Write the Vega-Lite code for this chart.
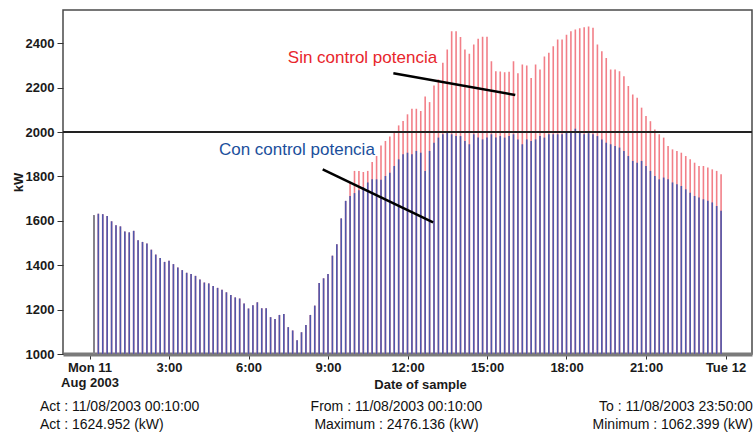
{
"$schema": "https://vega.github.io/schema/vega-lite/v6.json",
"width": 689, "height": 344, "autosize": "none",
"padding": {"left": 63, "top": 10, "right": 3, "bottom": 88},
"background": "#ffffff",
"config": {
  "view": {"stroke": "#4a4a4a", "strokeWidth": 1.5},
  "axis": {"grid": false, "labelFont": "Liberation Sans", "titleFont": "Liberation Sans", "labelColor": "#1a1a1a", "titleColor": "#1a1a1a", "labelFontSize": 13, "labelFontWeight": "bold", "titleFontSize": 13, "titleFontWeight": "bold", "tickColor": "#333333", "labelLineHeight": 15},
  "text": {"font": "Liberation Sans"}
},
"data": {"values": [
{"t":"2003-08-11T00:10","c":1625,"s":1625},{"t":"2003-08-11T00:20","c":1632,"s":1632},{"t":"2003-08-11T00:30","c":1630,"s":1630},{"t":"2003-08-11T00:40","c":1622,"s":1622},{"t":"2003-08-11T00:50","c":1598,"s":1598},{"t":"2003-08-11T01:00","c":1580,"s":1580},{"t":"2003-08-11T01:10","c":1575,"s":1575},{"t":"2003-08-11T01:20","c":1552,"s":1552},{"t":"2003-08-11T01:30","c":1548,"s":1548},{"t":"2003-08-11T01:40","c":1555,"s":1555},{"t":"2003-08-11T01:50","c":1512,"s":1512},{"t":"2003-08-11T02:00","c":1505,"s":1505},{"t":"2003-08-11T02:10","c":1498,"s":1498},{"t":"2003-08-11T02:20","c":1470,"s":1470},{"t":"2003-08-11T02:30","c":1448,"s":1448},{"t":"2003-08-11T02:40","c":1432,"s":1432},{"t":"2003-08-11T02:50","c":1415,"s":1415},{"t":"2003-08-11T03:00","c":1420,"s":1420},{"t":"2003-08-11T03:10","c":1405,"s":1405},{"t":"2003-08-11T03:20","c":1390,"s":1390},{"t":"2003-08-11T03:30","c":1378,"s":1378},{"t":"2003-08-11T03:40","c":1366,"s":1366},{"t":"2003-08-11T03:50","c":1360,"s":1360},{"t":"2003-08-11T04:00","c":1352,"s":1352},{"t":"2003-08-11T04:10","c":1336,"s":1336},{"t":"2003-08-11T04:20","c":1322,"s":1322},{"t":"2003-08-11T04:30","c":1318,"s":1318},{"t":"2003-08-11T04:40","c":1306,"s":1306},{"t":"2003-08-11T04:50","c":1298,"s":1298},{"t":"2003-08-11T05:00","c":1290,"s":1290},{"t":"2003-08-11T05:10","c":1278,"s":1278},{"t":"2003-08-11T05:20","c":1266,"s":1266},{"t":"2003-08-11T05:30","c":1255,"s":1255},{"t":"2003-08-11T05:40","c":1250,"s":1250},{"t":"2003-08-11T05:50","c":1228,"s":1228},{"t":"2003-08-11T06:00","c":1205,"s":1205},{"t":"2003-08-11T06:10","c":1220,"s":1220},{"t":"2003-08-11T06:20","c":1233,"s":1233},{"t":"2003-08-11T06:30","c":1206,"s":1206},{"t":"2003-08-11T06:40","c":1206,"s":1206},{"t":"2003-08-11T06:50","c":1166,"s":1166},{"t":"2003-08-11T07:00","c":1158,"s":1158},{"t":"2003-08-11T07:10","c":1176,"s":1176},{"t":"2003-08-11T07:20","c":1180,"s":1180},{"t":"2003-08-11T07:30","c":1121,"s":1121},{"t":"2003-08-11T07:40","c":1106,"s":1106},{"t":"2003-08-11T07:50","c":1062.399,"s":1062.399},{"t":"2003-08-11T08:00","c":1098,"s":1098},{"t":"2003-08-11T08:10","c":1131,"s":1131},{"t":"2003-08-11T08:20","c":1176,"s":1176},{"t":"2003-08-11T08:30","c":1218,"s":1218},{"t":"2003-08-11T08:40","c":1320,"s":1320},{"t":"2003-08-11T08:50","c":1341,"s":1341},{"t":"2003-08-11T09:00","c":1360,"s":1360},{"t":"2003-08-11T09:10","c":1443,"s":1443},{"t":"2003-08-11T09:20","c":1495,"s":1495},{"t":"2003-08-11T09:30","c":1611,"s":1611},{"t":"2003-08-11T09:40","c":1690,"s":1690},{"t":"2003-08-11T09:50","c":1712,"s":1773},
{"t":"2003-08-11T10:00","c":1725,"s":1825},{"t":"2003-08-11T10:10","c":1738,"s":1825},{"t":"2003-08-11T10:20","c":1752,"s":1820},{"t":"2003-08-11T10:30","c":1773,"s":1825},{"t":"2003-08-11T10:40","c":1787,"s":1865},{"t":"2003-08-11T10:50","c":1787,"s":1892},{"t":"2003-08-11T11:00","c":1785,"s":1940},{"t":"2003-08-11T11:10","c":1802,"s":1960},{"t":"2003-08-11T11:20","c":1817,"s":1980},{"t":"2003-08-11T11:30","c":1847,"s":2005},{"t":"2003-08-11T11:40","c":1877,"s":2030},{"t":"2003-08-11T11:50","c":1900,"s":2050},{"t":"2003-08-11T12:00","c":1907,"s":2080},{"t":"2003-08-11T12:10","c":1900,"s":2105},{"t":"2003-08-11T12:20","c":1915,"s":2105},{"t":"2003-08-11T12:30","c":1907,"s":2095},{"t":"2003-08-11T12:40","c":1825,"s":2160},{"t":"2003-08-11T12:50","c":1915,"s":2135},{"t":"2003-08-11T13:00","c":1952,"s":2210},{"t":"2003-08-11T13:10","c":1975,"s":2237},{"t":"2003-08-11T13:20","c":1990,"s":2312},{"t":"2003-08-11T13:30","c":1997,"s":2372},{"t":"2003-08-11T13:40","c":1990,"s":2454},{"t":"2003-08-11T13:50","c":1982,"s":2454},{"t":"2003-08-11T14:00","c":1982,"s":2428},{"t":"2003-08-11T14:10","c":1960,"s":2372},{"t":"2003-08-11T14:20","c":1945,"s":2353},{"t":"2003-08-11T14:30","c":1990,"s":2394},{"t":"2003-08-11T14:40","c":1975,"s":2420},{"t":"2003-08-11T14:50","c":1967,"s":2430},{"t":"2003-08-11T15:00","c":1975,"s":2430},{"t":"2003-08-11T15:10","c":1990,"s":2319},{"t":"2003-08-11T15:20","c":1975,"s":2274},{"t":"2003-08-11T15:30","c":1982,"s":2273},{"t":"2003-08-11T15:40","c":1975,"s":2270},{"t":"2003-08-11T15:50","c":1982,"s":2272},{"t":"2003-08-11T16:00","c":1990,"s":2319},{"t":"2003-08-11T16:10","c":1967,"s":2265},{"t":"2003-08-11T16:20","c":1945,"s":2304},{"t":"2003-08-11T16:30","c":1967,"s":2300},{"t":"2003-08-11T16:40","c":1960,"s":2244},{"t":"2003-08-11T16:50","c":1967,"s":2304},{"t":"2003-08-11T17:00","c":1982,"s":2282},{"t":"2003-08-11T17:10","c":1975,"s":2341},{"t":"2003-08-11T17:20","c":1990,"s":2357},{"t":"2003-08-11T17:30","c":1990,"s":2387},{"t":"2003-08-11T17:40","c":1990,"s":2417},{"t":"2003-08-11T17:50","c":1990,"s":2417},{"t":"2003-08-11T18:00","c":1997,"s":2439},{"t":"2003-08-11T18:10","c":1997,"s":2454},{"t":"2003-08-11T18:20","c":2015,"s":2462},{"t":"2003-08-11T18:30","c":2005,"s":2468},{"t":"2003-08-11T18:40","c":1990,"s":2472},{"t":"2003-08-11T18:50","c":1995,"s":2476.136},{"t":"2003-08-11T19:00","c":1990,"s":2470},{"t":"2003-08-11T19:10","c":1982,"s":2394},{"t":"2003-08-11T19:20","c":1967,"s":2364},{"t":"2003-08-11T19:30","c":1952,"s":2334},{"t":"2003-08-11T19:40","c":1945,"s":2282},{"t":"2003-08-11T19:50","c":1937,"s":2282},{"t":"2003-08-11T20:00","c":1930,"s":2274},{"t":"2003-08-11T20:10","c":1915,"s":2252},{"t":"2003-08-11T20:20","c":1892,"s":2207},{"t":"2003-08-11T20:30","c":1870,"s":2169},{"t":"2003-08-11T20:40","c":1862,"s":2155},{"t":"2003-08-11T20:50","c":1870,"s":2110},{"t":"2003-08-11T21:00","c":1847,"s":2072},{"t":"2003-08-11T21:10","c":1825,"s":2049},{"t":"2003-08-11T21:20","c":1802,"s":2012},{"t":"2003-08-11T21:30","c":1787,"s":1990},{"t":"2003-08-11T21:40","c":1795,"s":1975},{"t":"2003-08-11T21:50","c":1787,"s":1937},{"t":"2003-08-11T22:00","c":1773,"s":1922},{"t":"2003-08-11T22:10","c":1765,"s":1915},{"t":"2003-08-11T22:20","c":1757,"s":1907},{"t":"2003-08-11T22:30","c":1742,"s":1892},{"t":"2003-08-11T22:40","c":1727,"s":1877},{"t":"2003-08-11T22:50","c":1712,"s":1862},{"t":"2003-08-11T23:00","c":1705,"s":1847},{"t":"2003-08-11T23:10","c":1697,"s":1847},{"t":"2003-08-11T23:20","c":1690,"s":1840},{"t":"2003-08-11T23:30","c":1683,"s":1832},{"t":"2003-08-11T23:40","c":1667,"s":1825},{"t":"2003-08-11T23:50","c":1645,"s":1810}
]},
"layer": [
 {"mark": {"type": "rule", "strokeWidth": 1.6, "color": "#f27f88"},
  "encoding": {
   "x": {"field": "t", "type": "temporal", "title": "Date of sample",
     "scale": {"domain": [{"year":2003,"month":8,"date":10,"hours":23},{"year":2003,"month":8,"date":12,"hours":1}], "nice": false},
     "axis": {"values": [{"year":2003,"month":8,"date":11,"hours":0},{"year":2003,"month":8,"date":11,"hours":3},{"year":2003,"month":8,"date":11,"hours":6},{"year":2003,"month":8,"date":11,"hours":9},{"year":2003,"month":8,"date":11,"hours":12},{"year":2003,"month":8,"date":11,"hours":15},{"year":2003,"month":8,"date":11,"hours":18},{"year":2003,"month":8,"date":11,"hours":21},{"year":2003,"month":8,"date":12,"hours":0}],
       "labelExpr": "hours(datum.value) === 0 ? (date(datum.value) === 11 ? ['Mon 11', 'Aug 2003'] : 'Tue 12') : timeFormat(datum.value, '%-H:%M')",
       "tickSize": 5, "labelPadding": 2, "domainWidth": 4, "domainColor": "#7a7a7a", "titleY": 24, "titleBaseline": "top", "titleX": 357, "labelFlush": false, "labelOverlap": false}},
   "y": {"field": "s", "type": "quantitative", "title": "kW",
     "scale": {"domain": [1000, 2550], "nice": false, "zero": false},
     "axis": {"values": [1000,1050,1100,1150,1200,1250,1300,1350,1400,1450,1500,1550,1600,1650,1700,1750,1800,1850,1900,1950,2000,2050,2100,2150,2200,2250,2300,2350,2400,2450,2500],
       "format": "d", "labelExpr": "datum.value % 200 === 0 ? datum.label : ''",
       "tickSize": {"condition": {"test": "datum.value % 200 === 0", "value": 6}, "value": 4},
       "labelPadding": 3, "domain": false, "titleX": -45, "titleBaseline": "middle", "labelOverlap": false}},
   "y2": {"datum": 1000}
  }},
 {"mark": {"type": "rule", "strokeWidth": 1.6, "color": "#4f57ab"},
  "encoding": {
   "x": {"field": "t", "type": "temporal", "title": "Date of sample"},
   "y": {"field": "c", "type": "quantitative", "title": "kW"},
   "y2": {"datum": 1000}
  }},
 {"data": {"values": [{"t": "2003-08-11T00:10", "v": 1624.952}]},
  "mark": {"type": "rule", "strokeWidth": 1.5, "color": "#8c8c82"},
  "encoding": {
   "x": {"field": "t", "type": "temporal", "title": "Date of sample"},
   "y": {"field": "v", "type": "quantitative", "title": "kW"},
   "y2": {"datum": 1000}
  }},
 {"data": {"values": [{}]},
  "mark": {"type": "rule", "strokeWidth": 2, "color": "#222222"},
  "encoding": {"y": {"datum": 2000}}},
 {"data": {"values": [{}]},
  "mark": {"type": "rule", "strokeWidth": 2.5, "color": "#000000"},
  "encoding": {
   "x": {"datum": {"year":2003,"month":8,"date":11,"hours":11,"minutes":28}, "type": "temporal"},
   "x2": {"datum": {"year":2003,"month":8,"date":11,"hours":16,"minutes":4}},
   "y": {"datum": 2265}, "y2": {"datum": 2167}}},
 {"data": {"values": [{}]},
  "mark": {"type": "rule", "strokeWidth": 2.5, "color": "#000000"},
  "encoding": {
   "x": {"datum": {"year":2003,"month":8,"date":11,"hours":8,"minutes":48}, "type": "temporal"},
   "x2": {"datum": {"year":2003,"month":8,"date":11,"hours":12,"minutes":58}},
   "y": {"datum": 1832}, "y2": {"datum": 1593}}},
 {"data": {"values": [{"label": "Sin control potencia"}]},
  "mark": {"type": "text", "align": "left", "baseline": "alphabetic", "fontSize": 17, "color": "#e8262c"},
  "encoding": {
   "x": {"datum": {"year":2003,"month":8,"date":11,"hours":7,"minutes":29}, "type": "temporal"},
   "y": {"datum": 2312}, "text": {"field": "label"}}},
 {"data": {"values": [{"label": "Con control potencia"}]},
  "mark": {"type": "text", "align": "left", "baseline": "alphabetic", "fontSize": 17, "color": "#1b4f9c"},
  "encoding": {
   "x": {"datum": {"year":2003,"month":8,"date":11,"hours":4,"minutes":53}, "type": "temporal"},
   "y": {"datum": 1897}, "text": {"field": "label"}}},
 {"data": {"values": [{"a": "Act : 11/08/2003 00:10:00"}]},
  "mark": {"type": "text", "align": "left", "baseline": "alphabetic", "fontSize": 14, "color": "#111111"},
  "encoding": {
   "x": {"datum": {"year":2003,"month":8,"date":10,"hours":22,"minutes":8}, "type": "temporal"},
   "y": {"datum": 743}, "text": {"field": "a"}}},
 {"data": {"values": [{"a": "Act : 1624.952 (kW)"}]},
  "mark": {"type": "text", "align": "left", "baseline": "alphabetic", "fontSize": 14, "color": "#111111"},
  "encoding": {
   "x": {"datum": {"year":2003,"month":8,"date":10,"hours":22,"minutes":8}, "type": "temporal"},
   "y": {"datum": 662}, "text": {"field": "a"}}},
 {"data": {"values": [{"a": "From : 11/08/2003 00:10:00"}]},
  "mark": {"type": "text", "align": "center", "baseline": "alphabetic", "fontSize": 14, "color": "#111111"},
  "encoding": {
   "x": {"datum": {"year":2003,"month":8,"date":11,"hours":11,"minutes":35}, "type": "temporal"},
   "y": {"datum": 743}, "text": {"field": "a"}}},
 {"data": {"values": [{"a": "Maximum : 2476.136 (kW)"}]},
  "mark": {"type": "text", "align": "center", "baseline": "alphabetic", "fontSize": 14, "color": "#111111"},
  "encoding": {
   "x": {"datum": {"year":2003,"month":8,"date":11,"hours":11,"minutes":35}, "type": "temporal"},
   "y": {"datum": 662}, "text": {"field": "a"}}},
 {"data": {"values": [{"a": "To : 11/08/2003 23:50:00"}]},
  "mark": {"type": "text", "align": "right", "baseline": "alphabetic", "fontSize": 14, "color": "#111111"},
  "encoding": {
   "x": {"datum": {"year":2003,"month":8,"date":12,"hours":1,"minutes":2}, "type": "temporal"},
   "y": {"datum": 743}, "text": {"field": "a"}}},
 {"data": {"values": [{"a": "Minimum : 1062.399 (kW)"}]},
  "mark": {"type": "text", "align": "right", "baseline": "alphabetic", "fontSize": 14, "color": "#111111"},
  "encoding": {
   "x": {"datum": {"year":2003,"month":8,"date":12,"hours":1,"minutes":2}, "type": "temporal"},
   "y": {"datum": 662}, "text": {"field": "a"}}}
]
}
